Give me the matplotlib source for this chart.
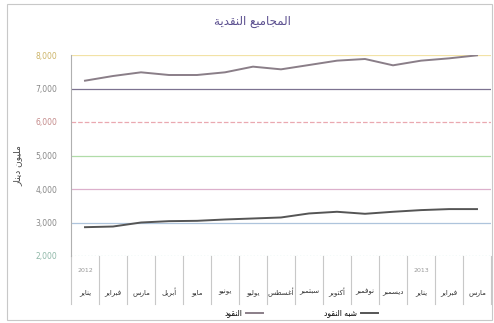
import numpy as np
import matplotlib
matplotlib.use("Agg")
import matplotlib.pyplot as plt
from matplotlib.patches import Rectangle
from matplotlib.transforms import blended_transform_factory

# contextual forms (Arabic Presentation Forms-B): first codepoint, number of forms
_AR = {'ء': (0xFE80, 1), 'آ': (0xFE81, 2), 'أ': (0xFE83, 2), 'ؤ': (0xFE85, 2),
       'إ': (0xFE87, 2), 'ئ': (0xFE89, 4), 'ا': (0xFE8D, 2), 'ب': (0xFE8F, 4),
       'ة': (0xFE93, 2), 'ت': (0xFE95, 4), 'ث': (0xFE99, 4), 'ج': (0xFE9D, 4),
       'ح': (0xFEA1, 4), 'خ': (0xFEA5, 4), 'د': (0xFEA9, 2), 'ذ': (0xFEAB, 2),
       'ر': (0xFEAD, 2), 'ز': (0xFEAF, 2), 'س': (0xFEB1, 4), 'ش': (0xFEB5, 4),
       'ص': (0xFEB9, 4), 'ض': (0xFEBD, 4), 'ط': (0xFEC1, 4), 'ظ': (0xFEC5, 4),
       'ع': (0xFEC9, 4), 'غ': (0xFECD, 4), 'ف': (0xFED1, 4), 'ق': (0xFED5, 4),
       'ك': (0xFED9, 4), 'ل': (0xFEDD, 4), 'م': (0xFEE1, 4), 'ن': (0xFEE5, 4),
       'ه': (0xFEE9, 4), 'و': (0xFEED, 2), 'ى': (0xFEEF, 2), 'ي': (0xFEF1, 4)}


def ar(text):
    """join letters and put them in visual (right-to-left) order"""
    out = []
    for i, ch in enumerate(text):
        if ch not in _AR:
            out.append(ch)
            continue
        base, n = _AR[ch]
        prev = text[i - 1] if i > 0 else ""
        nxt = text[i + 1] if i + 1 < len(text) else ""
        a = prev in _AR and _AR[prev][1] == 4 and n > 1
        b = n == 4 and nxt in _AR and _AR[nxt][1] > 1
        out.append(chr(base + (3 if a and b else 1 if a else 2 if b else 0)))
    return "".join(out[::-1])


plt.rcParams.update({"font.family": ["DejaVu Sans"], "font.size": 6})

months = ["يناير", "فبراير", "مارس", "أبريل", "مايو", "يونيو", "يوليو", "أغسطس",
          "سبتمبر", "أكتوبر", "نوفمبر", "ديسمبر", "يناير", "فبراير", "مارس"]
years = {0: "2012", 12: "2013"}
money = [7233, 7373, 7483, 7403, 7403, 7483, 7652, 7572, 7701, 7831, 7881,
         7692, 7831, 7900, 7990]
quasi = [2860, 2880, 3000, 3040, 3050, 3090, 3120, 3150, 3270, 3320, 3260,
         3320, 3370, 3400, 3400]
yticks = [2000, 3000, 4000, 5000, 6000, 7000, 8000]
grid_cols = ["#a6dcd4", "#aec4dc", "#dcb0cc", "#b0dca8", "#eaa8b0", "#7c7290", "#f2e2a6"]
grid_ls = [":", "-", "-", "-", "--", "-", "-"]
tick_cols = ["#8fb8a8", "#888888", "#888888", "#888888", "#c48a8a", "#888888", "#ccb468"]

W, H = 494, 323
fig = plt.figure(figsize=(W / 100, H / 100), dpi=100)
fig.patches.append(Rectangle((7 / W, 3 / H), 485 / W, 316 / H, transform=fig.transFigure,
                             fill=False, edgecolor="#c8c8c8", lw=0.8))
ax = fig.add_axes([71 / W, 1 - 256 / H, 420 / W, 201 / H])

x = np.arange(len(months))
ax.plot(x, money, color="#8a7e88", lw=1.4, label=ar("النقود"), zorder=3)
ax.plot(x, quasi, color="#555555", lw=1.4, label=ar("شبه النقود"), zorder=3)

ax.set_xlim(-0.5, len(months) - 0.5)
ax.set_ylim(2000, 8000)
for v, c, ls in zip(yticks, grid_cols, grid_ls):
    ax.axhline(v, color=c, lw=0.9, ls=ls, zorder=1)
ax.set_yticks(yticks)
ax.set_yticklabels([f"{v:,}" for v in yticks])
for lab, c in zip(ax.get_yticklabels(), tick_cols):
    lab.set_color(c)
ax.tick_params(axis="y", length=0, pad=10, labelsize=5.5)
ax.set_xticks([])
for s in ("top", "right", "bottom"):
    ax.spines[s].set_visible(False)
ax.spines["left"].set_color("#b0b0b0")
ax.spines["left"].set_bounds(2000, 8000)

# two-level category axis: year row over month row, cells divided by rules
tr = blended_transform_factory(ax.transData, ax.transAxes)
for i in range(len(months) + 1):
    ax.plot([i - 0.5, i - 0.5], [0, -0.24], color="#c8c8c8", lw=0.8,
            transform=tr, clip_on=False)
for i, m in enumerate(months):
    ax.text(i, -0.18, ar(m), transform=tr, ha="center", va="center",
            fontsize=5, color="#333333")
for i, y in years.items():
    ax.text(i, -0.07, y, transform=tr, ha="center", va="center",
            fontsize=4.5, color="#999999")

ax.set_ylabel(ar("مليون دينار"), fontsize=6.5, color="#444444")
ax.yaxis.set_label_coords(-0.115, 0.45)
fig.text(0.51, 1 - 22 / H, ar("المجاميع النقدية"), ha="center", va="center",
         fontsize=8.5, color="#5b4f8f")
ax.legend(loc="center", bbox_to_anchor=(0.61, 1 - 313 / H), bbox_transform=fig.transFigure,
          ncol=2, frameon=False, markerfirst=False, fontsize=5.5, handlelength=2.2,
          columnspacing=8, handletextpad=0.5)

fig.savefig("out.png", dpi=100)
